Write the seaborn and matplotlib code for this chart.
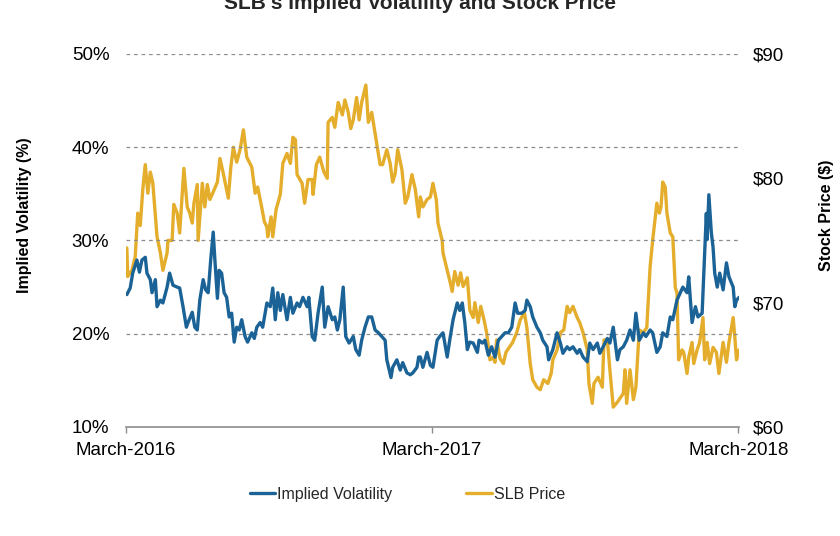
import pandas as pd
import seaborn as sns
import matplotlib.pyplot as plt

# days since 1 March 2016
iv_days = [1, 5, 8, 13, 16, 19, 23, 25, 29, 31, 35, 37, 41, 44, 49, 52, 56, 61, 64, 68,
           72, 74, 79, 82, 85, 88, 92, 95, 98, 101, 104, 106, 109, 111, 114, 117, 120, 123, 126, 129,
           132, 135, 138, 142, 145, 150, 153, 156, 160, 163, 168, 172, 175, 178, 181, 184, 187, 192, 196, 199,
           204, 207, 211, 216, 218, 222, 225, 229, 234, 237, 241, 246, 249, 252, 255, 259, 262, 266, 271, 274,
           278, 281, 285, 289, 293, 297, 301, 305, 309, 311, 316, 318, 323, 327, 330, 335, 339, 342, 347, 349,
           351, 354, 359, 363, 366, 371, 374, 378, 383, 386, 390, 395, 398, 401, 404, 407, 410, 414, 419, 421,
           425, 428, 432, 436, 440, 444, 448, 452, 456, 460, 464, 467, 472, 476, 478, 482, 485, 490, 494, 497,
           502, 504, 509, 514, 518, 521, 526, 529, 533, 538, 541, 545, 550, 553, 557, 562, 565, 569, 574, 577,
           581, 586, 589, 593, 597, 601, 605, 608, 612, 617, 620, 625, 628, 633, 637, 640, 645, 649, 652, 657,
           661, 664, 669, 671, 675, 679, 682, 687, 689, 692, 693, 695, 698, 700, 702, 705, 708, 712, 716, 719,
           724, 726, 728, 731]
iv_values = [24.2, 24.9, 26.5, 27.9, 26.6, 27.9, 28.2, 26.5, 25.8, 24.4, 25.8, 22.9, 23.6, 23.3, 25.0, 26.5, 25.2, 25.0, 24.9, 22.9,
             20.7, 21.2, 22.3, 20.7, 20.4, 23.6, 25.8, 24.7, 24.4, 27.9, 30.9, 27.9, 23.8, 26.8, 26.5, 24.4, 23.9, 21.8, 22.2, 19.1,
             20.7, 20.4, 21.5, 19.7, 19.1, 20.1, 19.5, 20.7, 21.2, 20.7, 23.3, 22.9, 24.9, 21.5, 24.4, 22.5, 24.2, 21.5, 23.9, 22.2,
             23.3, 22.9, 23.9, 22.9, 23.9, 19.7, 19.3, 22.2, 25.0, 20.7, 22.9, 21.5, 21.8, 20.4, 21.5, 25.0, 19.7, 19.0, 19.7, 18.3,
             17.7, 19.3, 20.7, 21.8, 21.8, 20.4, 20.1, 19.7, 19.3, 17.2, 15.3, 16.4, 17.2, 16.1, 16.9, 15.8, 15.6, 15.8, 16.4, 17.5,
             17.5, 16.4, 18.0, 16.6, 16.4, 19.3, 19.7, 20.1, 17.5, 19.3, 21.5, 23.3, 22.5, 23.3, 21.2, 18.3, 19.1, 19.0, 18.0, 19.3,
             19.0, 19.3, 17.7, 18.6, 17.5, 19.3, 19.7, 20.1, 20.1, 20.7, 23.3, 22.2, 22.2, 22.5, 23.6, 22.9, 21.8, 20.7, 20.1, 19.3,
             18.6, 17.2, 18.3, 20.1, 19.0, 17.9, 18.6, 18.3, 18.6, 17.9, 18.3, 17.5, 17.0, 19.0, 18.3, 19.0, 17.9, 18.6, 19.5, 19.0,
             20.7, 17.2, 18.3, 18.6, 19.3, 20.4, 19.3, 22.2, 19.3, 20.1, 19.7, 20.4, 20.1, 18.0, 18.6, 20.1, 19.7, 21.8, 21.5, 23.6,
             24.4, 25.0, 24.4, 26.1, 21.2, 22.9, 21.8, 22.2, 26.5, 32.9, 30.1, 34.9, 30.8, 29.3, 26.5, 25.0, 26.5, 24.7, 27.6, 26.1,
             25.0, 22.9, 23.6, 23.9]

price_days = [1, 2, 7, 11, 14, 17, 20, 23, 26, 29, 32, 37, 41, 44, 49, 50, 55, 57, 61, 64,
              67, 69, 73, 76, 79, 81, 85, 86, 91, 94, 97, 100, 104, 109, 112, 116, 122, 125, 128, 132,
              136, 140, 144, 150, 154, 157, 162, 165, 168, 169, 173, 175, 179, 184, 187, 192, 196, 199, 202, 204,
              210, 213, 217, 222, 223, 227, 231, 236, 240, 241, 246, 249, 253, 258, 261, 265, 268, 271, 275, 278,
              281, 286, 289, 293, 297, 303, 306, 311, 315, 318, 321, 324, 329, 333, 336, 341, 345, 349,
              351, 354, 359, 363, 366, 370, 372, 377, 378, 383, 386, 389, 392, 396, 399, 402, 407, 410, 414, 416,
              420, 423, 427, 430, 434, 438, 440, 442, 446, 450, 453, 457, 461, 466, 470, 475, 478, 482, 485, 490,
              494, 498, 503, 507, 509, 514, 518, 522, 526, 529, 533, 538, 541, 545, 550, 552, 556, 558, 563, 568,
              570, 574, 577, 581, 586, 589, 593, 595, 597, 601, 605, 608, 612, 617, 621, 625, 628, 633, 636, 638,
              640, 643, 645, 649, 652, 655, 657, 659, 663, 665, 669, 671, 675, 677, 681, 684, 688, 690, 693, 696,
              700, 704, 707, 712, 716, 719, 724, 726, 728, 731]
price_values = [74.4, 72.1, 72.6, 73.7, 77.2, 76.2, 79.1, 81.1, 78.8, 80.5, 79.6, 75.3, 74.0, 72.6, 74.0, 75.0, 75.0, 77.9, 77.2, 75.6,
                78.8, 80.8, 77.7, 77.2, 76.4, 78.0, 79.5, 75.0, 79.6, 77.7, 79.5, 78.3, 78.9, 79.7, 81.6, 80.4, 78.4, 80.9, 82.5, 81.3,
                82.3, 83.9, 81.7, 80.9, 78.8, 79.3, 77.6, 76.5, 76.1, 75.3, 76.9, 75.3, 77.5, 78.7, 81.2, 82.0, 81.2, 83.3, 83.1, 80.3,
                79.6, 78.0, 79.9, 79.9, 78.7, 81.1, 81.7, 80.5, 80.0, 84.5, 84.9, 84.1, 86.1, 85.1, 86.3, 85.3, 84.0, 84.7, 86.5, 84.7,
                86.1, 87.5, 84.5, 85.3, 83.6, 81.1, 81.1, 82.3, 81.2, 79.7, 80.4, 82.3, 80.7, 78.0, 78.5, 80.3, 79.1, 76.9,
                78.5, 77.7, 78.3, 78.5, 79.6, 78.3, 76.4, 75.0, 74.0, 72.6, 71.8, 70.9, 72.5, 71.4, 72.4, 71.3, 72.0, 69.4, 68.8, 70.0,
                68.4, 69.7, 68.6, 67.6, 65.4, 65.6, 65.2, 67.0, 65.5, 65.1, 66.0, 66.4, 66.8, 67.6, 68.6, 69.2, 68.0, 65.1, 63.8, 63.2,
                63.0, 63.8, 63.5, 64.3, 65.4, 66.2, 67.6, 67.8, 69.7, 69.2, 69.7, 68.8, 68.4, 67.6, 66.2, 63.5, 61.9, 63.5, 64.0, 63.2,
                67.0, 67.0, 64.6, 61.6, 62.0, 62.3, 62.7, 64.6, 61.9, 64.6, 62.2, 63.2, 67.8, 67.6, 68.0, 72.9, 75.0, 78.0, 77.2, 77.7,
                79.7, 79.3, 77.2, 75.6, 75.3, 71.2, 70.8, 65.4, 66.2, 66.0, 64.3, 65.6, 66.8, 65.1, 66.2, 66.8, 68.8, 65.4, 66.8, 65.1,
                66.4, 66.0, 64.3, 66.8, 65.2, 66.8, 68.8, 67.2, 65.4, 66.2]

tick_labels = ["March-2016", "March-2017", "March-2018"]
iv_ticks = [10, 20, 30, 40, 50]
price_ticks = [60, 70, 80, 90]

start = pd.Timestamp("2016-03-01")
iv_df = pd.DataFrame({"date": start + pd.to_timedelta(iv_days, unit="D"), "iv": iv_values})
price_df = pd.DataFrame({"date": start + pd.to_timedelta(price_days, unit="D"), "price": price_values})

blue = "#1b6396"
gold = "#e4ad2b"

sns.set_theme(style="white")
plt.rcParams["font.family"] = ["Liberation Sans", "DejaVu Sans"]

fig = plt.figure(figsize=(8.4, 5.36), dpi=100)
ax = fig.add_axes([0.15, 0.2034, 0.7298, 0.6959])
ax2 = ax.twinx()

sns.lineplot(data=iv_df, x="date", y="iv", ax=ax, color=blue, linewidth=2.4, label="Implied Volatility", legend=False)
sns.lineplot(data=price_df, x="date", y="price", ax=ax2, color=gold, linewidth=2.4, label="SLB Price", legend=False)

# blue line drawn above the gold one
ax.set_zorder(ax2.get_zorder() + 1)
ax.patch.set_visible(False)

ax.set_ylim(10, 50)
ax2.set_ylim(60, 90)
ax.set_yticks(iv_ticks)
ax.set_yticklabels([f"{v}%" for v in iv_ticks])
ax2.set_yticks(price_ticks)
ax2.set_yticklabels([f"${v}" for v in price_ticks])

tick_dates = [pd.Timestamp("2016-03-01"), pd.Timestamp("2017-03-01"), pd.Timestamp("2018-03-01")]
ax.set_xlim(start, start + pd.Timedelta(days=731))
ax.set_xticks(tick_dates)
ax.set_xticklabels(tick_labels)

for a in (ax, ax2):
    for s in ("top", "left", "right", "bottom"):
        a.spines[s].set_visible(False)
ax.spines["bottom"].set_visible(True)
ax.spines["bottom"].set_color("#8c8c8c")
ax.spines["bottom"].set_linewidth(1.2)

for v in iv_ticks[1:]:
    ax.axhline(v, color="#8c8c8c", linestyle=(0, (3, 3)), linewidth=0.9, zorder=0)

ax.tick_params(axis="x", bottom=True, length=4, width=1, color="#8c8c8c", pad=7, labelsize=13.5, labelcolor="black")
ax.tick_params(axis="y", left=False, length=0, pad=12, labelsize=13.5, labelcolor="black")
ax2.tick_params(axis="y", right=False, length=0, pad=10, labelsize=13.5, labelcolor="black")

ax.set_xlabel("")
ax.set_ylabel("Implied Volatility (%)", fontsize=11.5, fontweight="bold", color="black")
ax2.set_ylabel("Stock Price ($)", fontsize=11.5, fontweight="bold", color="black")
ax.yaxis.set_label_coords(-0.153, 0.568)
ax2.yaxis.set_label_coords(1.130, 0.568)

fig.text(0.5, 0.983, "SLB's Implied Volatility and Stock Price", ha="center", va="baseline",
         fontsize=15, fontweight="bold")

h1, l1 = ax.get_legend_handles_labels()
h2, l2 = ax2.get_legend_handles_labels()
fig.legend(h1 + h2, l1 + l2, loc="center", bbox_to_anchor=(0.485, 0.078), ncol=2, frameon=False,
           fontsize=11.5, handlelength=1.6, handletextpad=0.15, columnspacing=4.6)

fig.savefig("out.png", dpi=100)
